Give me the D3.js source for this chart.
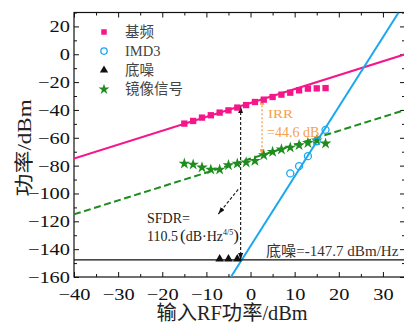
<!DOCTYPE html>
<html><head><meta charset="utf-8">
<script src="https://cdn.jsdelivr.net/npm/d3@7"></script>
<style>body{margin:0;background:#fff} svg{display:block}</style>
</head><body><svg id="c" width="404" height="325"></svg>
<script>
// ---------- data ----------
const inputPower   = [-15,-13,-11,-9,-7,-5,-3,-1,1,3,5,7,9,11,13,15,17];
const fundamental  = [-49.8,-47.9,-45.5,-43.8,-41.9,-40.3,-38.3,-36.5,-34.3,-32.6,-30.7,-29.0,-27.6,-25.9,-24.7,-24.5,-24.3];
const imageSignal  = [-78.5,-79.2,-81.3,-82.8,-82.8,-79.7,-78.5,-77.7,-76.6,-72.5,-70.1,-68.4,-67.0,-65.3,-63.7,-61.8,-64.1];
const imdPower     = [9,11,13,15,17];
const imd3         = [-85.6,-80.4,-73.2,-62.5,-54.3];
const noisePower   = [-7,-5,-3];
const noisePts     = [-147,-147,-147];
const noiseFloor   = -147.7;
const fitX         = [-40,35];
const fundFit      = [-75,0];
const imageFit     = [-115,-40];
const imdFitX      = [-4.45,33.55];
const imdFit       = [-160,30];
const sfdrX        = -2.25, sfdrTop = -37.3;
const irrX         = 2.6, irrTop = -31.9, irrBottom = -72.5;
const diagArrow    = [[-2.8,-97.1],[-7.3,-114.8]];
const legendLabels = ["基频","IMD3","底噪","镜像信号"];
const xTicks = [-40,-30,-20,-10,0,10,20,30];
const xMinor = [-35,-25,-15,-5,5,15,25,35];
const yTicks = [-160,-140,-120,-100,-80,-60,-40,-20,0,20];
const yMinor = [-150,-130,-110,-90,-70,-50,-30,-10,10,30];

// ---------- styles ----------
const PINK="#f5168c", BLUE="#1aa8ee", GREEN="#1e8c1e", ORANGE="#f6a04e";
const SERIF="'Liberation Serif','Times New Roman',serif";
const MIX="'Liberation Serif','Noto Sans CJK SC',serif";

const svg=d3.select("#c");
const x=d3.scaleLinear().domain([-40,35]).range([74,405]);
const y=d3.scaleLinear().domain([-160,30]).range([277,12.5]);
const X0=74,X1=405,Y0=12.5,Y1=277;

const defs=svg.append("defs");
defs.append("clipPath").attr("id","clip").append("rect")
  .attr("x",X0).attr("y",Y0).attr("width",X1-X0).attr("height",Y1-Y0);
function marker(id,color,w,h){
  defs.append("marker").attr("id",id).attr("viewBox",`0 0 ${w} ${h}`)
   .attr("refX",w).attr("refY",h/2).attr("markerWidth",w).attr("markerHeight",h)
   .attr("markerUnits","userSpaceOnUse").attr("orient","auto-start-reverse")
   .append("path").attr("d",`M0,0L${w},${h/2}L0,${h}Z`).attr("fill",color);
}
marker("ab","#111",7,5); marker("ao",ORANGE,6,5);

// ---------- axes ----------
const SX=1.2;
function styleTicks(g,labels){
  g.select(".domain").remove();
  g.selectAll("line").attr("stroke","#111").attr("stroke-width",1);
  if(!labels) g.selectAll("text").remove();
}
function mkAxis(axis,scale,vals,size,tr,labels){
  const a=axis(scale).tickValues(vals).tickSize(-size).tickPadding(labels?10:0);
  const g=svg.append("g").attr("transform",tr).call(a);
  styleTicks(g,labels);
  return g;
}
const gb=mkAxis(d3.axisBottom,x,xTicks,5,`translate(0,${Y1})`,true);
mkAxis(d3.axisBottom,x,xMinor,3,`translate(0,${Y1})`,false);
mkAxis(d3.axisTop,x,xTicks,5,`translate(0,${Y0})`,false);
mkAxis(d3.axisTop,x,xMinor,3,`translate(0,${Y0})`,false);
const gl=mkAxis(d3.axisLeft,y,yTicks,5,`translate(${X0},0)`,true);
mkAxis(d3.axisLeft,y,yMinor,3,`translate(${X0},0)`,false);
mkAxis(d3.axisRight,y,yTicks,5,`translate(${X1},0)`,false);
mkAxis(d3.axisRight,y,yMinor,3,`translate(${X1},0)`,false);
gb.selectAll("text").attr("font-family",SERIF).attr("font-size",17).attr("fill","#111")
  .attr("y",10.5).attr("transform",`scale(${SX},1)`);
gl.selectAll("text").attr("font-family",SERIF).attr("font-size",17).attr("fill","#111")
  .attr("x",-4/SX).attr("transform",`scale(${SX},1)`);

svg.append("rect").attr("x",X0).attr("y",Y0).attr("width",X1-X0).attr("height",Y1-Y0)
  .attr("fill","none").attr("stroke","#111").attr("stroke-width",1.2);

// ---------- lines ----------
const plot=svg.append("g").attr("clip-path","url(#clip)");
const line=d3.line().x(d=>x(d[0])).y(d=>y(d[1]));
plot.append("path").datum(d3.zip(fitX,fundFit)).attr("d",line)
  .attr("stroke",PINK).attr("stroke-width",2).attr("fill","none");
plot.append("path").datum(d3.zip(fitX,imageFit)).attr("d",line)
  .attr("stroke",GREEN).attr("stroke-width",2).attr("stroke-dasharray","7,3.5").attr("fill","none");
plot.append("path").datum(d3.zip(imdFitX,imdFit)).attr("d",line)
  .attr("stroke",BLUE).attr("stroke-width",2).attr("fill","none");
plot.append("path").datum(d3.zip(fitX,[noiseFloor,noiseFloor])).attr("d",line)
  .attr("stroke","#111").attr("stroke-width",1.3).attr("fill","none");

// ---------- annotations arrows ----------
svg.append("path").datum([[sfdrX,noiseFloor],[sfdrX,sfdrTop]]).attr("d",line)
  .attr("stroke","#222").attr("stroke-width",1.2).attr("stroke-dasharray","3,2").attr("fill","none")
  .attr("marker-start","url(#ab)").attr("marker-end","url(#ab)");
svg.append("path").datum(diagArrow).attr("d",line)
  .attr("stroke","#222").attr("stroke-width",1.2).attr("stroke-dasharray","3,2").attr("fill","none")
  .attr("marker-end","url(#ab)");
svg.append("path").datum([[irrX,irrBottom],[irrX,irrTop]]).attr("d",line)
  .attr("stroke",ORANGE).attr("stroke-width",1.3).attr("stroke-dasharray","2,2").attr("fill","none")
  .attr("marker-start","url(#ao)").attr("marker-end","url(#ao)");

// ---------- points ----------
const sym=(t,s)=>d3.symbol().type(t).size(s)();
svg.append("g").selectAll("path").data(d3.zip(inputPower,fundamental)).join("path")
  .attr("transform",d=>`translate(${x(d[0])},${y(d[1])})`).attr("d",sym(d3.symbolSquare,40)).attr("fill",PINK);
svg.append("g").selectAll("path").data(d3.zip(inputPower,imageSignal)).join("path")
  .attr("transform",d=>`translate(${x(d[0])},${y(d[1])})`).attr("d",sym(d3.symbolStar,42)).attr("fill",GREEN);
svg.append("g").selectAll("circle").data(d3.zip(imdPower,imd3)).join("circle")
  .attr("cx",d=>x(d[0])).attr("cy",d=>y(d[1])).attr("r",3.5)
  .attr("fill","none").attr("stroke",BLUE).attr("stroke-width",1.3);
svg.append("g").selectAll("path").data(d3.zip(noisePower,noisePts)).join("path")
  .attr("transform",d=>`translate(${x(d[0])},${y(d[1])})`).attr("d",sym(d3.symbolTriangle,32)).attr("fill","#111");

// ---------- legend ----------
const lg=svg.append("g");
const lsyms=[
  g=>g.append("path").attr("d",sym(d3.symbolSquare,30)).attr("fill",PINK),
  g=>g.append("circle").attr("r",3.2).attr("fill","none").attr("stroke",BLUE).attr("stroke-width",1.3),
  g=>g.append("path").attr("d",sym(d3.symbolTriangle,30)).attr("fill","#111"),
  g=>g.append("path").attr("d",sym(d3.symbolStar,36)).attr("fill",GREEN)
];
legendLabels.forEach((t,i)=>{
  const g=lg.append("g").attr("transform",`translate(104,${32+i*19.1})`);
  lsyms[i](g);
  g.append("text").attr("x",21).attr("y",5).text(t)
    .attr("font-family",MIX).attr("font-size",14.5).attr("fill","#444");
});

// ---------- texts ----------
function txt(t,px,py,size,color,k){
  return svg.append("text").attr("transform",`translate(${px},${py}) scale(${k||1},1)`)
    .attr("font-family",MIX).attr("font-size",size).attr("fill",color).text(t);
}
txt("IRR",268,118,13,ORANGE,1.15);
txt("=44.6 dB",267,137,14,ORANGE,1.0);
txt("SFDR=",147,223,14,"#222",1.0);
const s2=svg.append("text").attr("transform","translate(147,241)").attr("font-family",SERIF)
  .attr("font-size",14).attr("fill","#222");
s2.append("tspan").text("110.5");
s2.append("tspan").attr("font-size",17).attr("dx",2).text("(");
s2.append("tspan").text("dB·Hz");
s2.append("tspan").attr("font-size",8).attr("dy",-6).text("4/5");
s2.append("tspan").attr("font-size",17).attr("dy",6).text(")");
txt("底噪=-147.7 dBm/Hz",266,256,14.5,"#333",1.04);

svg.append("text").attr("x",232).attr("y",320).attr("text-anchor","middle")
  .attr("font-family",MIX).attr("font-size",20).attr("fill","#222")
  .attr("textLength",151).attr("lengthAdjust","spacingAndGlyphs").text("输入RF功率/dBm");
svg.append("text").attr("transform","translate(31,148) rotate(-90)").attr("text-anchor","middle")
  .attr("font-family",MIX).attr("font-size",19).attr("fill","#222")
  .attr("textLength",97).attr("lengthAdjust","spacingAndGlyphs").text("功率/dBm");
</script></body></html>
